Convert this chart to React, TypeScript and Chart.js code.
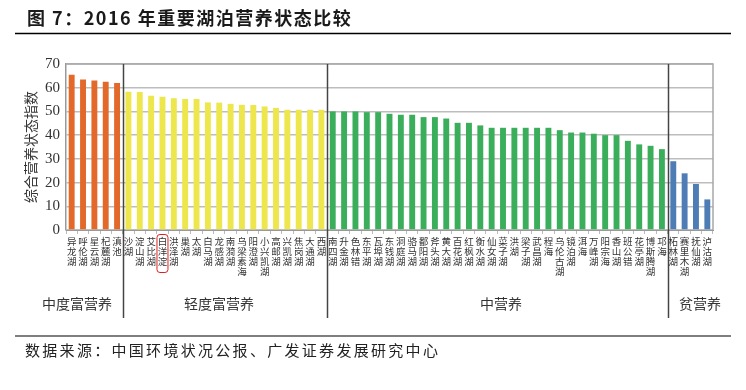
import { useEffect, useRef } from 'react';
import { Chart, registerables } from 'chart.js';

Chart.register(...registerables);

const SERIF = '"Liberation Serif", "DejaVu Serif", serif';
const CJK = '"Noto Sans CJK SC", "Noto Sans", sans-serif';

const titleText = '图 7：2016 年重要湖泊营养状态比较';
const sourceText = '数据来源：中国环境状况公报、广发证券发展研究中心';
const yAxisTitle = '综合营养状态指数';
const groupNames = ['中度富营养', '轻度富营养', '中营养', '贫营养'];
const groupColors = ['#E2692A', '#EDE64C', '#3AAE5B', '#4E7DB6'];

const lakesModerate = ['异龙湖', '呼伦湖', '星云湖', '杞麓湖', '滇池'];
const valuesModerate = [65.5, 63.5, 63.0, 62.5, 62.0];

const lakesLight = ['沙湖', '淀山湖', '艾比湖', '白洋淀', '洪泽湖', '巢湖', '太湖', '白马湖', '龙感湖', '南漪湖', '乌梁素海', '阳澄湖', '小兴凯湖', '高邮湖', '兴凯湖', '焦岗湖', '大通湖', '西湖'];
const valuesLight = [58.3, 58.2, 56.6, 56.2, 55.6, 55.2, 55.2, 53.8, 53.7, 53.2, 52.8, 52.7, 52.1, 51.5, 50.7, 50.7, 50.7, 50.7];

const lakesMeso = ['南四湖', '升金湖', '色林错', '东平湖', '瓦埠湖', '东钱湖', '洞庭湖', '骆马湖', '鄱阳湖', '斧头湖', '黄大湖', '百花湖', '红枫湖', '衡水湖', '仙女湖', '菜子湖', '洪湖', '梁子湖', '武昌湖', '程海', '乌伦古湖', '镜泊湖', '洱海', '万峰湖', '阳宗海', '香山湖', '班公错', '花亭湖', '博斯腾湖', '邛海'];
const valuesMeso = [50.0, 50.0, 50.0, 49.7, 49.7, 49.0, 48.6, 48.6, 47.6, 47.6, 47.0, 45.2, 45.2, 44.1, 43.1, 43.1, 43.1, 43.1, 43.1, 43.1, 42.1, 41.1, 41.1, 40.6, 40.0, 40.0, 37.6, 36.1, 35.5, 34.1];

const lakesOligo = ['柘林湖', '赛里木湖', '抚仙湖', '泸沽湖'];
const valuesOligo = [29.0, 23.9, 19.4, 12.9];

const yTicks = [0, 10, 20, 30, 40, 50, 60, 70];
const highlightedLake = '白洋淀';

export default function App() {
  const ref = useRef<HTMLCanvasElement | null>(null);

  useEffect(() => {
    const groups = [
      { lakes: lakesModerate, values: valuesModerate },
      { lakes: lakesLight, values: valuesLight },
      { lakes: lakesMeso, values: valuesMeso },
      { lakes: lakesOligo, values: valuesOligo },
    ];
    const labels: string[][] = [];
    const data: number[] = [];
    const colors: string[] = [];
    const boundaries: number[] = [];
    groups.forEach((g, gi) => {
      g.lakes.forEach((l, i) => {
        labels.push(Array.from(l));
        data.push(g.values[i]);
        colors.push(groupColors[gi]);
      });
      boundaries.push(labels.length);
    });
    const highlightIndex = [...lakesModerate, ...lakesLight, ...lakesMeso, ...lakesOligo].indexOf(highlightedLake);

    const overlay = {
      id: 'overlay',
      afterDraw(chart: any) {
        const ctx = chart.ctx;
        const area = chart.chartArea;
        const xs = chart.scales.x;
        ctx.save();
        // title
        ctx.fillStyle = '#1a1a1a';
        ctx.font = `bold 18px ${CJK}`;
        ctx.textBaseline = 'middle';
        ctx.textAlign = 'left';
        (ctx as any).letterSpacing = '1.5px';
        ctx.fillText(titleText, 27, 18);
        (ctx as any).letterSpacing = '0px';
        ctx.strokeStyle = '#000';
        ctx.lineWidth = 1.5;
        ctx.beginPath();
        ctx.moveTo(15, 33.5);
        ctx.lineTo(731, 33.5);
        ctx.stroke();

        // plot frame (top & right)
        ctx.strokeStyle = '#a8a8a8';
        ctx.lineWidth = 1.5;
        ctx.beginPath();
        ctx.moveTo(area.left, area.top);
        ctx.lineTo(area.right, area.top);
        ctx.lineTo(area.right, area.bottom);
        ctx.stroke();

        // y axis title
        ctx.save();
        ctx.translate(31, (area.top + area.bottom) / 2);
        ctx.rotate(-Math.PI / 2);
        ctx.fillStyle = '#333';
        ctx.font = `14px ${CJK}`;
        ctx.textAlign = 'center';
        ctx.textBaseline = 'middle';
        ctx.fillText(yAxisTitle, 0, 0);
        ctx.restore();

        // separators
        const step = xs.getPixelForValue(1) - xs.getPixelForValue(0);
        ctx.strokeStyle = '#444';
        ctx.lineWidth = 1.5;
        boundaries.slice(0, -1).forEach((b) => {
          const x = Math.round(xs.getPixelForValue(b) - step / 2) + 0.5;
          ctx.beginPath();
          ctx.moveTo(x, area.top);
          ctx.lineTo(x, 318);
          ctx.stroke();
        });

        // group labels
        ctx.fillStyle = '#333';
        ctx.font = `14px ${CJK}`;
        ctx.textAlign = 'center';
        ctx.textBaseline = 'middle';
        const centers = [77, 219, 501, 700];
        groupNames.forEach((g, i) => {
          ctx.fillText(g, centers[i], 304);
        });

        // highlight box
        if (highlightIndex >= 0) {
          const hx = xs.getPixelForValue(highlightIndex);
          ctx.strokeStyle = '#e02020';
          ctx.lineWidth = 1;
          ctx.beginPath();
          (ctx as any).roundRect(hx - 5.5, 234.5, 11, 38, 3);
          ctx.stroke();
        }

        // footer
        ctx.strokeStyle = '#000';
        ctx.lineWidth = 1.2;
        ctx.beginPath();
        ctx.moveTo(15, 336);
        ctx.lineTo(731, 336);
        ctx.stroke();
        ctx.fillStyle = '#222';
        ctx.font = `15px ${CJK}`;
        ctx.textAlign = 'left';
        (ctx as any).letterSpacing = '2.3px';
        ctx.fillText(sourceText, 25, 350);
        ctx.restore();
      },
    };

    const chart = new Chart(ref.current as HTMLCanvasElement, {
      type: 'bar',
      data: {
        labels,
        datasets: [
          {
            data,
            backgroundColor: colors,
            barPercentage: 0.52,
            categoryPercentage: 1,
          },
        ],
      },
      options: {
        animation: false,
        responsive: false,
        maintainAspectRatio: false,
        events: [],
        layout: { padding: { top: 64, right: 33, left: 0, bottom: 0 } },
        plugins: { legend: { display: false }, tooltip: { enabled: false } },
        scales: {
          x: {
            grid: { display: true, drawOnChartArea: false, tickLength: 4, color: '#bbb', offset: true },
            border: { color: '#999', width: 1 },
            ticks: {
              autoSkip: false,
              maxRotation: 0,
              minRotation: 0,
              padding: 2,
              color: '#333',
              font: { family: CJK, size: 9.5, lineHeight: 1.05 },
            },
            afterFit: (s: any) => {
              s.height = 160;
            },
          },
          y: {
            min: 0,
            max: 70,
            afterBuildTicks: (s: any) => {
              s.ticks = yTicks.map((v) => ({ value: v }));
            },
            grid: { color: '#bdbdbd', lineWidth: 1.5, drawTicks: false },
            border: { color: '#999', width: 1.5 },
            ticks: {
              padding: 6,
              color: '#333',
              font: { family: SERIF, size: 15 },
            },
            afterFit: (s: any) => {
              s.width = 66;
            },
          },
        },
      },
      plugins: [overlay],
    });
    return () => chart.destroy();
  }, []);

  return (
    <div style={{ position: 'fixed', left: 0, top: 0, width: 746, height: 390, background: '#fff' }}>
      <canvas ref={ref} width={746} height={390} style={{ width: 746, height: 390, display: 'block' }} />
    </div>
  );
}
